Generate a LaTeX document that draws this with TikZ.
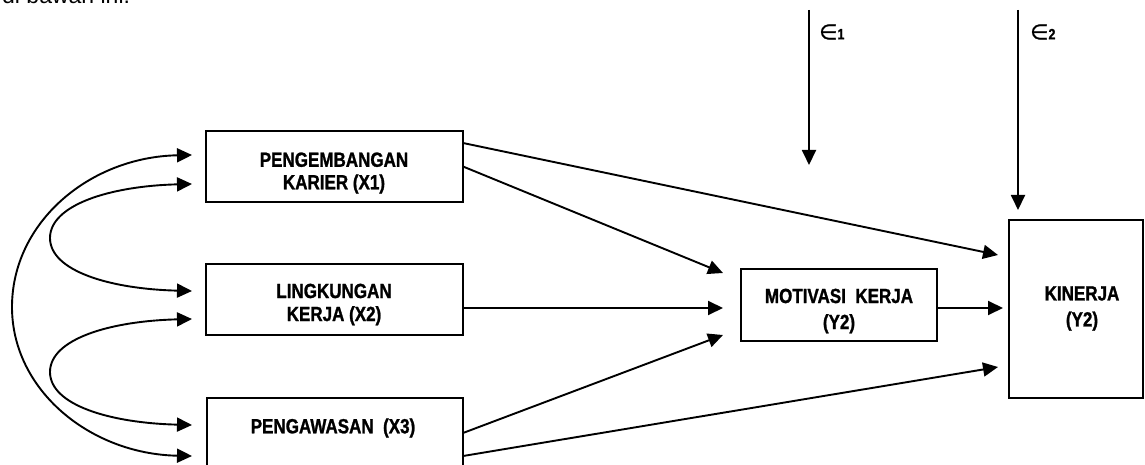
\documentclass[tikz,border=0pt]{standalone}
\usepackage{fontspec}
\setmainfont{Liberation Sans}
\newfontfamily\lblfont[FakeStretch=0.83,FakeBold=1.2]{Liberation Sans}
\newfontfamily\symfont[FakeBold=1]{DejaVu Sans}
\usetikzlibrary{arrows.meta}
\begin{document}
\begin{tikzpicture}[x=1pt,y=-1pt,
  box/.style={draw, line width=1.6pt, inner sep=0pt, outer sep=0pt, anchor=north west},
  lbl/.style={align=center, inner sep=0pt, font=\lblfont\bfseries\fontsize{20.5}{22.5}\selectfont},
  arr/.style={line width=1.9pt, -{Triangle[length=15pt,width=14pt]}},
  darr/.style={line width=1.9pt, {Triangle[length=15pt,width=14pt]}-{Triangle[length=15pt,width=14pt]}},
  eps/.style={inner sep=0pt, anchor=west}]
\useasboundingbox (0,0) rectangle (1145,465);

% cut-off text at top
\node[anchor=base west, inner sep=0pt, font=\fontsize{23}{26}\selectfont] (toptext) at (2,4) {di bawah ini.};

% boxes
\node[box, minimum width=257pt, minimum height=71pt] (x1) at (206,131) {};
\node[box, minimum width=257pt, minimum height=71pt] (x2) at (206,264) {};
\node[box, minimum width=256pt, minimum height=100pt] (x3) at (207,398) {};
\node[box, minimum width=196pt, minimum height=72pt] (mot) at (741,269) {};
\node[box, minimum width=134pt, minimum height=178pt] (kin) at (1009,220) {};

% labels
\node[lbl] (t1) at (334,173) {PENGEMBANGAN\\KARIER (X1)};
\node[lbl, font=\lblfont\bfseries\fontsize{20.5}{23}\selectfont] (t2) at (334,304.5) {LINGKUNGAN\\KERJA (X2)};
\node[lbl] (t3) at (333,428) {PENGAWASAN~~(X3)};
\node[lbl, font=\lblfont\bfseries\fontsize{20.5}{26}\selectfont] (tm) at (839,311) {MOTIVASI~~KERJA\\(Y2)};
\node[lbl, font=\lblfont\bfseries\fontsize{20.5}{26}\selectfont] (tk) at (1082,308.5) {KINERJA\\(Y2)};

% error terms
\coordinate (e1s) at (809,10);
\coordinate (e1e) at (809,165);
\coordinate (e2s) at (1018,10);
\draw[arr] (e1s) -- (e1e);
\draw[arr] (e2s) -- ([xshift=-58pt,yshift=10pt]kin.north);
\node[eps] (eps1) at (819,32) {{\symfont\fontsize{21}{21}\selectfont ∈}{\lblfont\bfseries\fontsize{15}{15}\selectfont 1}};
\node[eps] (eps2) at (1030,32) {{\symfont\fontsize{21}{21}\selectfont ∈}{\lblfont\bfseries\fontsize{15}{15}\selectfont 2}};

% paths
\draw[arr] ([yshift=23.5pt]x1.east) -- ([xshift=-11pt,yshift=54pt]kin.west);
\draw[arr] (x1.east) -- ([xshift=-18pt,yshift=32pt]mot.west);
\draw[arr] ([yshift=-8.5pt]x2.east) -- ([xshift=-18pt,yshift=-3pt]mot.west);
\draw[arr] ([yshift=15pt]x3.east) -- ([xshift=-18pt,yshift=-30pt]mot.west);
\draw[arr] ([yshift=-8pt]x3.east) -- ([xshift=-11pt,yshift=-58pt]kin.west);
\draw[arr] ([yshift=-3pt]mot.east) -- ([xshift=-6pt,yshift=1pt]kin.west);

% correlations
\draw[darr] ([xshift=-15pt,yshift=-58pt]x3.north west) .. controls (90,454) and (12,390) .. (12,307)
  .. controls (12,222) and (90,157) .. ([xshift=-14pt,yshift=11.5pt]x1.west);
\draw[darr] ([xshift=-14pt,yshift=-17.5pt]x1.west) .. controls (110,186) and (50,205) .. (50,238)
  .. controls (50,271) and (110,289) .. ([xshift=-14pt,yshift=8.5pt]x2.west);
\draw[darr] ([xshift=-14pt,yshift=-19.5pt]x2.west) .. controls (110,321) and (50,339) .. (50,372)
  .. controls (50,405) and (110,423) .. ([xshift=-15pt,yshift=-27pt]x3.north west);
\end{tikzpicture}
\end{document}
